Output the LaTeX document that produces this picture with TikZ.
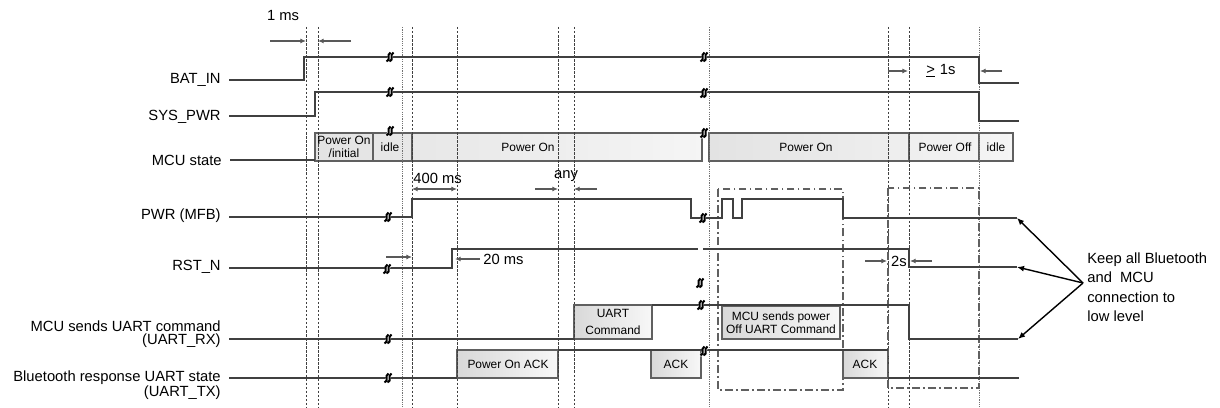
\documentclass[tikz,border=0pt]{standalone}
\usepackage{fontspec}
\setmainfont{Liberation Sans}
\usetikzlibrary{arrows.meta}
\definecolor{sigc}{HTML}{404040}
\definecolor{boxc}{HTML}{606060}
\tikzset{
  sig/.style={draw=sigc, line width=0.6pt},
  vdash/.style={draw=black!75, line width=0.45pt, dash pattern=on 1.4pt off 0.9pt},
  vdot/.style={draw=black!55, line width=0.5pt, dash pattern=on 0.7pt off 0.6pt},
  ddot/.style={draw=boxc, line width=0.6pt, dash pattern=on 4.5pt off 1.8pt on 1pt off 1.8pt},
  stbox/.style={draw=boxc, line width=0.6pt, left color=gray!30, right color=gray!6},
  mcubox/.style={draw=boxc, line width=0.6pt, left color=gray!22, right color=gray!8},
  lbl/.style={font=\fontsize{8.4}{7.4}\selectfont, align=right, anchor=east, inner sep=0},
  btxt/.style={font=\fontsize{6.8}{7.6}\selectfont, align=center, inner sep=0},
  ann/.style={font=\fontsize{8.4}{10}\selectfont, inner sep=0},
  tarr/.style={-{Latex[length=3.2pt,width=2.8pt]}, draw=black!65, line width=0.6pt},
  keeparr/.style={-{Latex[length=4pt,width=3.4pt]}, draw=black, line width=0.8pt},
  brk/.pic={
    \fill[white] (-4.5,5.5) -- (0.5,5.5) -- (5,-5.5) -- (0,-5.5) -- cycle;
    \draw[black, line width=1.15pt] (-3.5,4.5) .. controls (1.5,2.5) and (-4,-2) .. (0.5,-4.5);
    \draw[black, line width=1.15pt] (-0.5,4.5) .. controls (4.5,2.5) and (-1,-2) .. (3.5,-4.5);
  }
}
\begin{document}
\begin{tikzpicture}[x=0.02cm,y=-0.02cm]
\useasboundingbox (0,0) rectangle (1220,408);

% ---------- state boxes (drawn first, dashed lines pass over them) ----------
\path[mcubox] (315,133) rectangle (702,161);
\path[mcubox] (709,133) rectangle (1013,161);
\draw[draw=boxc, line width=0.6pt] (373,133) -- (373,161) (412,133) -- (412,161)
   (909,133) -- (909,161) (979,133) -- (979,161);

\path[stbox] (574,305) rectangle (652,339);
\path[stbox] (722,306) rectangle (840,339);
\path[stbox] (457,350) rectangle (558,378);
\path[stbox] (651,350) rectangle (701,378);
\path[stbox] (843,350) rectangle (888,378);

% ---------- vertical guide lines ----------
\foreach \x in {306,318,412,457,558,574,888,909}
  \draw[vdash] (\x,27) -- (\x,408);
\foreach \x in {402,709,979}
  \draw[vdot] (\x,27) -- (\x,408);

% ---------- dash-dot frames ----------
\draw[ddot] (718,189) rectangle (843,390);
\draw[ddot] (888,188) rectangle (979,388);

% ---------- signal labels ----------
\node[lbl] (lbat) at (221,80) {BAT\_IN};
\node[lbl] (lsys) at (221,117) {SYS\_PWR};
\node[lbl] (lmcu) at (222,160) {MCU state};
\node[lbl] (lpwr) at (221,216) {PWR (MFB)};
\node[lbl] (lrst) at (221,267) {RST\_N};
\node[lbl] (lrx) at (221,334) {MCU sends UART command\\(UART\_RX)};
\node[lbl] (ltx) at (221,385) {Bluetooth response UART state\\(UART\_TX)};

% ---------- waveforms ----------
\draw[sig] (229,80) -- (304,80) -- (304,57) -- (979,57) -- (979,83) -- (1019,83);
\draw[sig] (229,116) -- (315,116) -- (315,92) -- (979,92) -- (979,121) -- (1019,121);
\draw[sig] (230,160) -- (315,160);
\draw[sig] (229,217) -- (412,217) -- (412,199) -- (691,199) -- (691,218) -- (722,218)
   -- (722,199) -- (733,199) -- (733,218) -- (742,218) -- (742,199) -- (843,199)
   -- (843,218) -- (1017,218);
\draw[sig] (229,268) -- (452,268) -- (452,249) -- (698,249);
\draw[sig] (703,249) -- (909,249) -- (909,267) -- (1017,267);
\draw[sig] (229,339) -- (574,339);
\draw[sig] (652,305) -- (909,305) -- (909,339) -- (1018,339);
\draw[sig] (229,378) -- (457,378);
\draw[sig] (558,350) -- (888,350);
\draw[sig] (888,378) -- (1019,378);

% ---------- box texts ----------
\node[btxt] (t1) at (344,147) {Power On\\/initial};
\node[btxt] (t2) at (390,147) {idle};
\node[btxt] (t3) at (528,147) {Power On};
\node[btxt] (t4) at (806,147) {Power On};
\node[btxt] (t5) at (945,147) {Power Off};
\node[btxt] (t6) at (996,147) {idle};
\node[btxt, font=\fontsize{6.8}{10}\selectfont] (t7) at (613,322) {UART\\Command};
\node[btxt] (t8) at (781,323) {MCU sends power\\Off UART Command};
\node[btxt] (t9) at (508,364) {Power On ACK};
\node[btxt] (t10) at (676,364) {ACK};
\node[btxt] (t11) at (865,364) {ACK};

% ---------- timing annotations ----------
\node[ann] (a1) at (283,15) {1 ms};
\coordinate (a1l) at (270,41); \coordinate (a1lt) at (306,41);
\coordinate (a1r) at (351,41); \coordinate (a1rt) at (318,41);
\draw[tarr] (a1l) -- (a1lt);
\draw[tarr] (a1r) -- (a1rt);

\node[ann, anchor=west] (a2) at (413,178) {400 ms};
\coordinate (a2l) at (412,189); \coordinate (a2r) at (457,189);
\draw[tarr, {Latex[length=3.2pt,width=2.8pt]}-{Latex[length=3.2pt,width=2.8pt]}] (a2l) -- (a2r);

\node[ann] (a3) at (566,176) {any};
\coordinate (a3l) at (535,189); \coordinate (a3lt) at (558,189);
\coordinate (a3r) at (597,189); \coordinate (a3rt) at (574,189);
\draw[tarr] (a3l) -- (a3lt);
\draw[tarr] (a3r) -- (a3rt);

\node[ann] (a4) at (941,71) {\underline{>}\,\,1s};
\coordinate (a4l) at (888,71); \coordinate (a4lt) at (908,71);
\coordinate (a4r) at (1002,71); \coordinate (a4rt) at (980,71);
\draw[tarr] (a4l) -- (a4lt);
\draw[tarr] (a4r) -- (a4rt);

\node[ann] (a5) at (899,261) {2s};
\coordinate (a5l) at (865,261); \coordinate (a5lt) at (887,261);
\coordinate (a5r) at (932,261); \coordinate (a5rt) at (910,261);
\draw[tarr] (a5l) -- (a5lt);
\draw[tarr] (a5r) -- (a5rt);

\node[ann, anchor=west] (a6) at (483,259) {20 ms};
\coordinate (a6l) at (386,257); \coordinate (a6lt) at (412,257);
\coordinate (a6r) at (480,259); \coordinate (a6rt) at (455,259);
\draw[tarr] (a6l) -- (a6lt);
\draw[tarr] (a6r) -- (a6rt);

% ---------- keep-low note ----------
\node[ann, anchor=west, align=left, font=\fontsize{8.4}{11.1}\selectfont] (keep) at (1087,287)
  {Keep all Bluetooth\\and\ \ MCU\\connection to\\low level};
\coordinate (apex) at (1083,283);
\coordinate (k1) at (1017,218);
\coordinate (k2) at (1017,267);
\coordinate (k3) at (1018,339);
\draw[keeparr] (apex) -- (k1);
\draw[keeparr] (apex) -- (k2);
\draw[keeparr] (apex) -- (k3);

% ---------- break marks ----------
\foreach \p in {(390,57),(390,92),(390,131),(388,217),(387,269),(388,339),(388,378),
                (704,57),(704,93),(704,133),(703,218),(700,283),(701,305),(704,351)}
  \pic at \p {brk};
\end{tikzpicture}
\end{document}
